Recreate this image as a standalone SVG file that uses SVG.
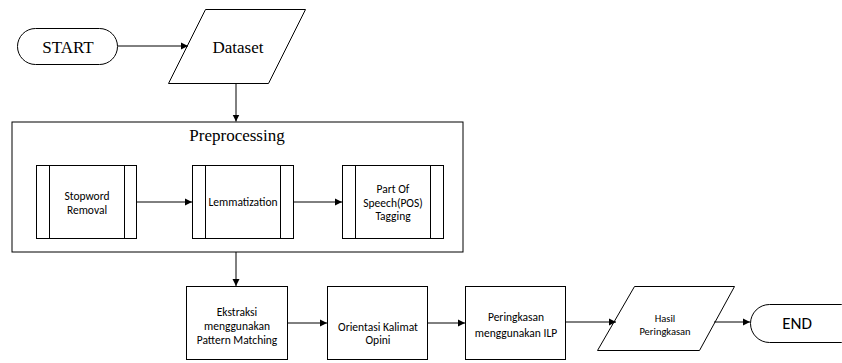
<svg xmlns="http://www.w3.org/2000/svg" width="842" height="363" viewBox="0 0 842 363">
<defs>
<marker id="ah" markerWidth="8" markerHeight="8" refX="7" refY="4" orient="auto" markerUnits="userSpaceOnUse">
<path d="M0,0.5 L7,4 L0,7.5 Z" fill="#000"/>
</marker>
</defs>
<style>
.s{fill:#fff;stroke:#000;stroke-width:1}
.c{fill:none;stroke:#000;stroke-width:1;marker-end:url(#ah)}
.l{fill:none;stroke:#000;stroke-width:1}
.tr{font-family:"Liberation Serif","Times New Roman",serif;font-size:17px;fill:#000;text-anchor:middle}
.sa{font-family:Carlito,Lato,"Liberation Sans",sans-serif;font-size:11.5px;fill:#000;text-anchor:middle}
.sm{font-family:Carlito,Lato,"Liberation Sans",sans-serif;font-size:10.5px;fill:#000;text-anchor:middle}
.lg{font-family:Carlito,Lato,"Liberation Sans",sans-serif;font-size:17px;fill:#000;text-anchor:middle}
</style>
<rect width="842" height="363" fill="#fff"/>
<g id="start">
<rect class="s" x="17.5" y="28.5" width="100" height="36" rx="18" ry="18"/>
<text class="tr" x="68" y="52.5">START</text>
</g>
<g id="dataset">
<polygon class="s" points="205.5,9.5 305.5,9.5 268.5,83.5 168.5,83.5"/>
<text class="tr" x="238" y="52.5">Dataset</text>
</g>
<g id="preprocessing">
<rect class="s" x="12" y="122" width="451" height="130"/>
<text class="tr" x="237" y="140.5">Preprocessing</text>
</g>
<g id="stopword">
<rect class="s" x="36.5" y="165.5" width="100" height="73"/>
<line class="l" x1="49.5" y1="165.5" x2="49.5" y2="238.5"/>
<line class="l" x1="124.5" y1="165.5" x2="124.5" y2="238.5"/>
<text class="sa" x="87" y="200">Stopword</text>
<text class="sa" x="87" y="213.5">Removal</text>
</g>
<g id="lemmatization">
<rect class="s" x="192.5" y="165.5" width="101" height="73"/>
<line class="l" x1="205.5" y1="165.5" x2="205.5" y2="238.5"/>
<line class="l" x1="280.5" y1="165.5" x2="280.5" y2="238.5"/>
<text class="sa" x="243" y="206">Lemmatization</text>
</g>
<g id="pos">
<rect class="s" x="342.5" y="165.5" width="101" height="73"/>
<line class="l" x1="355.5" y1="165.5" x2="355.5" y2="238.5"/>
<line class="l" x1="430.5" y1="165.5" x2="430.5" y2="238.5"/>
<text class="sa" x="393" y="193">Part Of</text>
<text class="sa" x="393" y="206.5">Speech(POS)</text>
<text class="sa" x="393" y="220">Tagging</text>
</g>
<g id="ekstraksi">
<rect class="s" x="186.5" y="286.5" width="101" height="73"/>
<text class="sa" x="237" y="315.5">Ekstraksi</text>
<text class="sa" x="237" y="329.5">menggunakan</text>
<text class="sa" x="237" y="343.5">Pattern Matching</text>
</g>
<g id="orientasi">
<rect class="s" x="327.5" y="286.5" width="100" height="73"/>
<text class="sa" x="378" y="331">Orientasi Kalimat</text>
<text class="sa" x="378" y="344">Opini</text>
</g>
<g id="peringkasan">
<rect class="s" x="465.5" y="286.5" width="100" height="73"/>
<text class="sa" x="516" y="320.5">Peringkasan</text>
<text class="sa" x="516" y="337">menggunakan ILP</text>
</g>
<g id="hasil">
<polygon class="s" points="634.5,286.5 734.5,286.5 699.5,350.5 597.5,350.5"/>
<text class="sm" x="665" y="321.5">Hasil</text>
<text class="sm" x="665" y="335">Peringkasan</text>
</g>
<g id="end">
<rect class="s" x="750.5" y="304.5" width="110" height="38" rx="19" ry="19"/>
<text class="lg" x="797" y="329">END</text>
</g>
<g id="connectors">
<line class="c" x1="118" y1="46" x2="188" y2="46"/>
<line class="c" x1="236" y1="83.5" x2="236" y2="121.5"/>
<line class="c" x1="137" y1="202" x2="192" y2="202"/>
<line class="c" x1="294" y1="202" x2="342" y2="202"/>
<line class="c" x1="236" y1="252" x2="236" y2="286"/>
<line class="c" x1="288" y1="323" x2="327" y2="323"/>
<line class="c" x1="428" y1="323" x2="465" y2="323"/>
<line class="c" x1="566" y1="322" x2="616" y2="322"/>
<line class="c" x1="714" y1="322" x2="750" y2="322"/>
</g>
</svg>
